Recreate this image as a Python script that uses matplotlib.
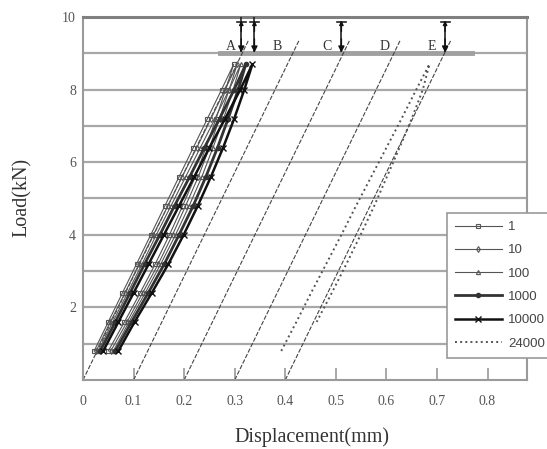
import matplotlib
matplotlib.use("Agg")
import matplotlib.pyplot as plt

# ---------------- data ----------------
load_up = [0.8, 1.6, 2.4, 3.2, 4.0, 4.8, 5.6, 6.4, 7.2, 8.0, 8.7]
load_down = [8.0, 7.2, 6.4, 5.6, 4.8, 4.0, 3.2, 2.4, 1.6, 0.8]

cycles = ["1", "10", "100", "1000", "10000", "24000"]

disp_1_up = [0.022, 0.050, 0.078, 0.106, 0.134, 0.162, 0.190, 0.218, 0.246, 0.274, 0.298]
disp_1_down = [0.282, 0.263, 0.243, 0.222, 0.197, 0.171, 0.143, 0.113, 0.082, 0.050]

disp_10_up = [0.026, 0.054, 0.083, 0.111, 0.139, 0.168, 0.196, 0.225, 0.253, 0.281, 0.305]
disp_10_down = [0.289, 0.270, 0.250, 0.228, 0.203, 0.177, 0.149, 0.118, 0.087, 0.055]

disp_100_up = [0.030, 0.059, 0.088, 0.117, 0.145, 0.174, 0.203, 0.232, 0.261, 0.289, 0.312]
disp_100_down = [0.297, 0.278, 0.257, 0.235, 0.210, 0.183, 0.154, 0.123, 0.091, 0.060]

disp_1000_up = [0.034, 0.064, 0.093, 0.122, 0.152, 0.181, 0.211, 0.240, 0.270, 0.299, 0.322]
disp_1000_down = [0.307, 0.287, 0.266, 0.243, 0.218, 0.190, 0.161, 0.129, 0.096, 0.064]

disp_10000_up = [0.040, 0.070, 0.100, 0.130, 0.160, 0.190, 0.220, 0.250, 0.281, 0.311, 0.335]
disp_10000_down = [0.319, 0.299, 0.277, 0.253, 0.227, 0.199, 0.169, 0.136, 0.102, 0.070]

disp_24000_up = [0.392, 0.422, 0.451, 0.481, 0.511, 0.540, 0.570, 0.600, 0.630, 0.659, 0.685]
disp_24000_down = [0.672, 0.650, 0.626, 0.601, 0.576, 0.549, 0.521, 0.492, 0.462]

# reference lines A-E (start on x axis, end near top)
ref_names = ["A", "B", "C", "D", "E"]
ref_start = [0.0, 0.1, 0.2, 0.3, 0.4]
ref_end = [0.327, 0.427, 0.527, 0.627, 0.727]
ref_top = 9.35
ref_label_x = [0.293, 0.384, 0.483, 0.596, 0.689]

# peak-displacement arrows
arrow_x = [0.313, 0.339, 0.511, 0.716]

x_ticks = [0, 0.1, 0.2, 0.3, 0.4, 0.5, 0.6, 0.7, 0.8]
x_tick_labels = ["0", "0.1", "0.2", "0.3", "0.4", "0.5", "0.6", "0.7", "0.8"]
y_ticks = [2, 4, 6, 8, 10]
y_tick_labels = ["2", "4", "6", "8", "10"]

# ---------------- figure ----------------
serif = "Liberation Serif"
fig = plt.figure(figsize=(5.47, 4.49), dpi=100)
ax = fig.add_axes([83 / 547, 69 / 449, 444 / 547, 363 / 449])
ax.set_xlim(0, 0.878)
ax.set_ylim(0, 10)

ax.set_yticks(y_ticks)
ax.set_yticks([1, 3, 5, 7, 9], minor=True)
ax.set_yticklabels(y_tick_labels, fontfamily=serif, fontsize=10, color="#555555")
ax.yaxis.grid(True, which="both", color="#a8a8a8", lw=1.6)
ax.tick_params(axis="y", which="both", length=0, pad=5)
ax.set_xticks(x_ticks)
ax.set_xticklabels(x_tick_labels, fontfamily=serif, fontsize=10, color="#555555")
ax.tick_params(axis="x", direction="in", length=9, width=1.2, color="#999999", pad=11)
ax.set_axisbelow(True)

for side in ["left", "bottom", "right"]:
    ax.spines[side].set_color("#9a9a9a")
    ax.spines[side].set_linewidth(1.5)
ax.spines["top"].set_color("#808080")
ax.spines["top"].set_linewidth(2.2)

# thick grey line at 9 kN
ax.plot([0.27, 0.77], [9, 9], color="#a0a0a0", lw=3.5, zorder=1.5)

# reference lines
for x0, x1, name, lx in zip(ref_start, ref_end, ref_names, ref_label_x):
    ax.plot([x0, x1], [0, ref_top], color="#444444", lw=0.8,
            linestyle=(0, (4, 1.5)), zorder=2)
    ax.text(lx, 9.2, name, fontfamily=serif, fontsize=10, color="#333333",
            ha="center", va="center")

# series
styles = [
    dict(color="#555555", lw=0.8, marker="s", ms=3.5, mfc="none", mew=0.8),
    dict(color="#555555", lw=0.8, marker="d", ms=3.0, mfc="none", mew=0.8),
    dict(color="#555555", lw=0.8, marker="^", ms=3.0, mfc="none", mew=0.8),
    dict(color="#333333", lw=2.0, marker="o", ms=3.0),
    dict(color="#111111", lw=1.8, marker="x", ms=4.0, mew=1.0),
    dict(color="#555555", lw=1.4, linestyle=":", marker=None),
]
series = [
    (disp_1_up + disp_1_down, load_up + load_down),
    (disp_10_up + disp_10_down, load_up + load_down),
    (disp_100_up + disp_100_down, load_up + load_down),
    (disp_1000_up + disp_1000_down, load_up + load_down),
    (disp_10000_up + disp_10000_down, load_up + load_down),
    (disp_24000_up + disp_24000_down, load_up + load_down[:len(disp_24000_down)]),
]
handles = []
for (xs, ys), st, lab in zip(series, styles, cycles):
    h, = ax.plot(xs, ys, label=lab, zorder=3, **st)
    handles.append(h)

# arrows
for i, x in enumerate(arrow_x):
    top = 10.0 if i < 2 else 9.85
    ax.plot([x, x], [9.05, top], color="#222222", lw=1.2, zorder=4)
    ax.plot([x - 0.009, x + 0.009], [9.85, 9.85], color="#222222", lw=1.2, zorder=4)
    ax.annotate("", xy=(x, 9.02), xytext=(x, 9.4),
                arrowprops=dict(arrowstyle="-|>", color="#111111", lw=1.0,
                                mutation_scale=9, shrinkA=0, shrinkB=0), zorder=4)
    ax.annotate("", xy=(x, 9.9), xytext=(x, 9.6),
                arrowprops=dict(arrowstyle="-|>", color="#111111", lw=1.0,
                                mutation_scale=6, shrinkA=0, shrinkB=0), zorder=4)

leg = ax.legend(handles=handles, loc="upper left",
                bbox_to_anchor=(447 / 547, 1 - 213 / 449), bbox_transform=fig.transFigure,
                prop={"family": "Liberation Sans", "size": 9.5}, frameon=True,
                fancybox=False, edgecolor="#999999", framealpha=1, borderpad=0.6,
                labelspacing=0.84, handlelength=3.56, handletextpad=0.45,
                borderaxespad=0, numpoints=1)
leg.get_frame().set_linewidth(1.2)
for t in leg.get_texts():
    t.set_color("#444444")

fig.text(22 / 547, 1 - 197 / 449, "Load(kN)", rotation=90, fontfamily=serif,
         fontsize=14.5, color="#333333", ha="center", va="center")
fig.text(312 / 547, 1 - 437 / 449, "Displacement(mm)", fontfamily=serif,
         fontsize=14.5, color="#333333", ha="center", va="center")

fig.savefig("out.png", dpi=100)
